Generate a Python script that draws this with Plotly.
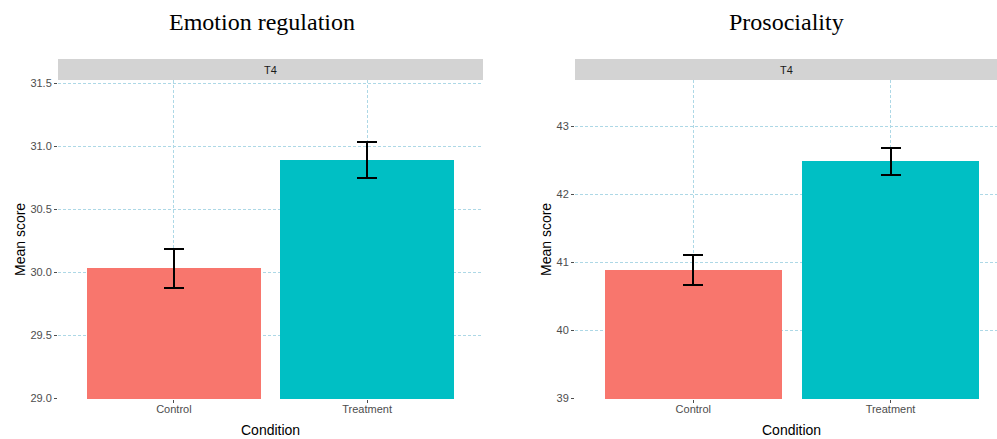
import plotly.graph_objects as go

W, H = 997, 439

categories = ["Control", "Treatment"]
bar_colors = ["#F8766D", "#00BFC4"]

titles = ["Emotion regulation", "Prosociality"]
facet_label = "T4"

emo_means = [30.03, 30.89]
emo_err = [0.152, 0.142]
pro_means = [40.89, 42.48]
pro_err = [0.218, 0.20]

emo_ticks = [29.0, 29.5, 30.0, 30.5, 31.0, 31.5]
pro_ticks = [39, 40, 41, 42, 43]

def px_x(p):
    return p / W

def px_y(p):
    return 1 - p / H

fig = go.Figure()

panels = [
    dict(means=emo_means, err=emo_err, xa="x", ya="y"),
    dict(means=pro_means, err=pro_err, xa="x2", ya="y2"),
]
for pnl in panels:
    fig.add_trace(go.Bar(
        x=categories, y=pnl["means"], width=0.9,
        marker=dict(color=bar_colors, line=dict(width=0)),
        error_y=dict(type="data", array=pnl["err"], visible=True,
                     color="black", thickness=2, width=10),
        xaxis=pnl["xa"], yaxis=pnl["ya"], showlegend=False,
        hoverinfo="skip",
    ))

grid = dict(showgrid=True, gridcolor="#add8e6", griddash="3px,2px", gridwidth=1,
            zeroline=False, showline=False, ticks="outside", ticklen=3,
            tickcolor="#4d4d4d", tickwidth=1, automargin=False,
            tickfont=dict(family="Liberation Sans, Arial", size=11, color="#4d4d4d"))

ydom = [px_y(399), px_y(80)]
fig.update_layout(
    width=W, height=H, margin=dict(l=0, r=0, t=0, b=0, autoexpand=False),
    paper_bgcolor="white", plot_bgcolor="white",
    bargap=0,
    xaxis=dict(domain=[px_x(58), px_x(483)], range=[-0.6, 1.6], anchor="y",
               ticklabelstandoff=-3, **grid),
    yaxis=dict(domain=ydom, range=[28.994, 31.526], tickvals=emo_ticks,
               tickformat=".1f", anchor="x", **grid),
    xaxis2=dict(domain=[px_x(575), 1.0], range=[-0.6, 1.54], anchor="y2",
                ticklabelstandoff=-3, **grid),
    yaxis2=dict(domain=ydom, range=[38.99, 43.676], tickvals=pro_ticks,
                tickformat="d", anchor="x2", **grid),
)

shapes = []
annotations = []
strips = [(58, 483, 262), (575, 997, 786)]
ytitle_x = [20, 546]
for i, (x0, x1, tc) in enumerate(strips):
    shapes.append(dict(type="rect", xref="paper", yref="paper",
                       x0=px_x(x0), x1=px_x(x1), y0=px_y(80), y1=px_y(59),
                       fillcolor="#d3d3d3", line=dict(width=0), layer="below"))
    annotations.append(dict(text=facet_label, xref="paper", yref="paper",
                            x=px_x((x0 + x1) / 2), y=px_y(70), showarrow=False,
                            xanchor="center", yanchor="middle",
                            font=dict(family="Liberation Sans, Arial", size=11, color="#1a1a1a")))
    annotations.append(dict(text=titles[i], xref="paper", yref="paper",
                            x=px_x(tc), y=px_y(22), showarrow=False,
                            xanchor="center", yanchor="middle",
                            font=dict(family="Liberation Serif, Times New Roman", size=24, color="black")))
    annotations.append(dict(text="Condition", xref="paper", yref="paper",
                            x=px_x((x0 + x1) / 2 + (0 if i == 0 else 5)), y=px_y(430), showarrow=False,
                            xanchor="center", yanchor="middle",
                            font=dict(family="Liberation Sans, Arial", size=14, color="black")))
    annotations.append(dict(text="Mean score", xref="paper", yref="paper",
                            x=px_x(ytitle_x[i]), y=px_y(240), showarrow=False,
                            textangle=-90, xanchor="center", yanchor="middle",
                            font=dict(family="Liberation Sans, Arial", size=14, color="black")))

fig.update_layout(shapes=shapes, annotations=annotations)
fig.write_html("out.html")
